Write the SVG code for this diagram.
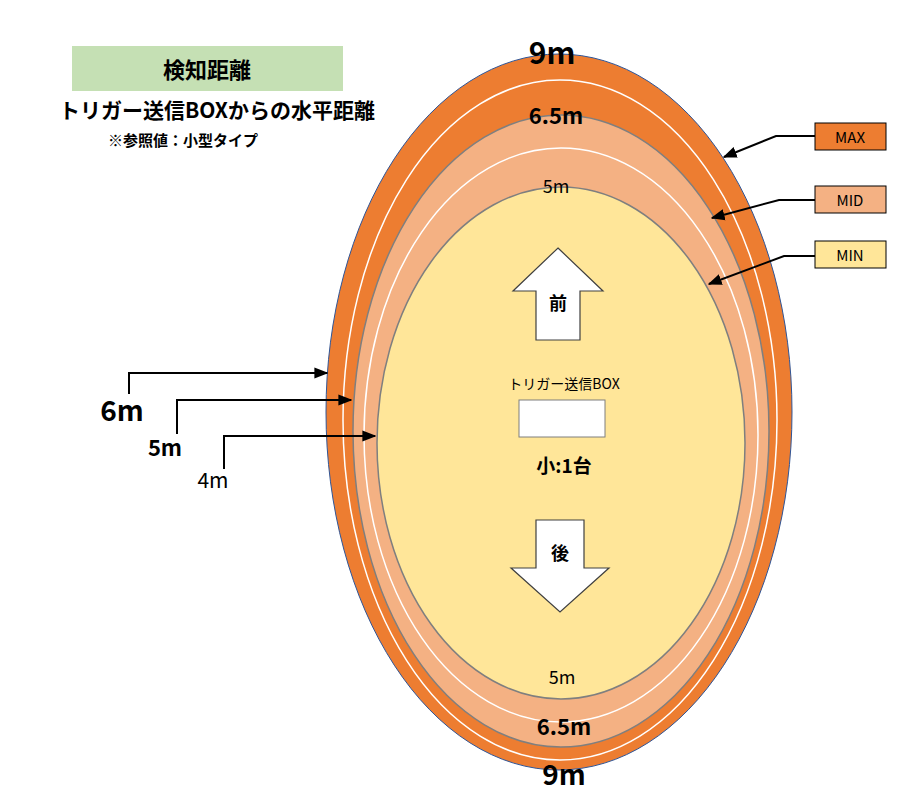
<svg xmlns="http://www.w3.org/2000/svg" width="913" height="811" viewBox="0 0 913 811">
<defs><marker id="ah" viewBox="0 0 10 10" refX="9" refY="5" markerWidth="7" markerHeight="7" orient="auto-start-reverse"><path d="M0,1 L10,5 L0,9 z" fill="#000"/></marker></defs>
<style>
text{font-family:"Noto Sans CJK JP","Liberation Sans",sans-serif;fill:#000;text-anchor:middle}
.b{font-weight:bold}
.l{stroke:#000;stroke-width:2;fill:none}
.lbl{stroke:#000;stroke-width:1}
</style>
<rect width="913" height="811" fill="#fff"/>
<g id="rings">
<ellipse cx="559" cy="412" rx="233" ry="358" fill="#ed7d31" stroke="#2f5597" stroke-width="1"/>
<ellipse cx="560" cy="420" rx="217" ry="340" fill="none" stroke="#fff" stroke-width="1.5"/>
<ellipse cx="561" cy="431" rx="208" ry="316" fill="#f4b183" stroke="#7f7f7f" stroke-width="1.5"/>
<ellipse cx="561" cy="435" rx="197" ry="287" fill="none" stroke="#fff" stroke-width="1.5"/>
<ellipse cx="561" cy="443" rx="184" ry="256" fill="#ffe699" stroke="#7f7f7f" stroke-width="1.5"/>
</g>
<g id="ring-labels">
<text x="552" y="64" font-size="30" class="b">9m</text>
<text x="556" y="124" font-size="22" class="b">6.5m</text>
<text x="556" y="193" font-size="18">5m</text>
<text x="562" y="684" font-size="18">5m</text>
<text x="564" y="735" font-size="22" class="b">6.5m</text>
<text x="564" y="785" font-size="28" class="b">9m</text>
</g>
<g id="title">
<rect x="72" y="46" width="271" height="45" fill="#c5e0b4"/>
<text x="207" y="78" font-size="22" class="b">検知距離</text>
<text x="217" y="118" font-size="21" class="b">トリガー送信BOXからの水平距離</text>
<text x="183" y="146" font-size="15" class="b">※参照値：小型タイプ</text>
</g>
<g id="front">
<path d="M558,248 L603,291 L580,291 L580,340 L536,340 L536,291 L513,291 Z" fill="#fff" stroke="#404040" stroke-width="1.2"/>
<text x="558" y="310" font-size="18" class="b">前</text>
</g>
<g id="back">
<path d="M536,520 L584,520 L584,568 L609,568 L560,612 L511,568 L536,568 Z" fill="#fff" stroke="#404040" stroke-width="1.2"/>
<text x="560" y="560" font-size="18" class="b">後</text>
</g>
<g id="box">
<text x="564" y="389" font-size="14">トリガー送信BOX</text>
<rect x="519" y="400" width="86" height="37" fill="#fff" stroke="#7f7f7f"/>
<text x="564" y="473" font-size="19" class="b">小:1台</text>
</g>
<g id="legend">
<rect x="815" y="123" width="71" height="27" fill="#ed7d31" class="lbl"/>
<text x="850" y="143" font-size="15">MAX</text>
<rect x="815" y="186" width="71" height="27" fill="#f4b183" class="lbl"/>
<text x="850" y="206" font-size="15">MID</text>
<rect x="815" y="241" width="71" height="27" fill="#ffe699" class="lbl"/>
<text x="850" y="261" font-size="15">MIN</text>
</g>
<g id="dist-labels">
<text x="122" y="421" font-size="28" class="b">6m</text>
<text x="165" y="456" font-size="22" class="b">5m</text>
<text x="213" y="488" font-size="21">4m</text>
</g>
<g id="connectors">
<path class="l" d="M815,136 L776,136 L724,157" marker-end="url(#ah)"/>
<path class="l" d="M815,200 L779,200 L712,218" marker-end="url(#ah)"/>
<path class="l" d="M815,256 L784,256 L709,284" marker-end="url(#ah)"/>
<path class="l" d="M129,394 L129,373 L327,373" marker-end="url(#ah)"/>
<path class="l" d="M177,434 L177,400 L351,400" marker-end="url(#ah)"/>
<path class="l" d="M224,469 L224,436 L375,436" marker-end="url(#ah)"/>
</g>
</svg>
